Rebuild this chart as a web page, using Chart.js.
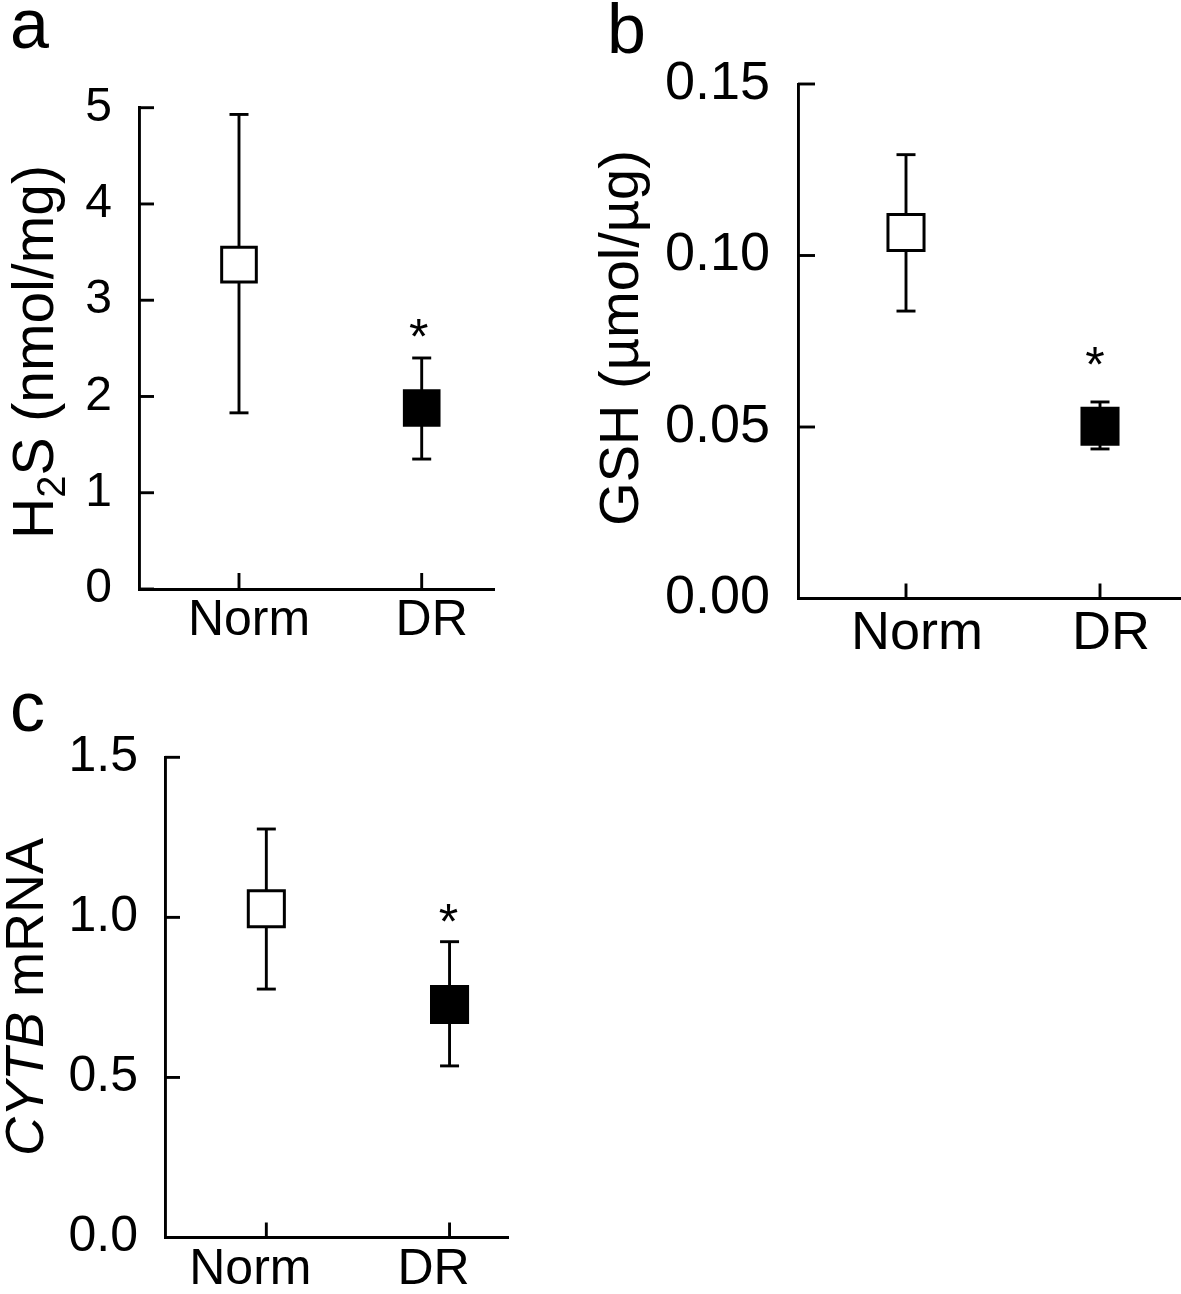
<!DOCTYPE html>
<html><head><meta charset="utf-8">
<script src="https://cdn.jsdelivr.net/npm/chart.js@4.4.1/dist/chart.umd.min.js"></script>
<style>
html,body{margin:0;padding:0;background:#fff;}
body{width:1181px;height:1294px;position:relative;overflow:hidden;font-family:"Liberation Sans",Arial,sans-serif;color:#000;}
canvas{position:absolute;}
.lbl{position:absolute;white-space:nowrap;line-height:1;}
.ttl{position:absolute;white-space:nowrap;line-height:1;transform:translate(-50%,-50%) rotate(-90deg);}
</style></head><body>
<canvas id="ca"></canvas><canvas id="cb"></canvas><canvas id="cc"></canvas>
<div class="lbl" style="left:10px;top:-11px;font-size:70px;">a</div>
<div class="lbl" style="left:607px;top:-6px;font-size:70px;">b</div>
<div class="lbl" style="left:10px;top:672px;font-size:70px;">c</div>
<div class="ttl" style="left:33px;top:352px;font-size:57px;">H<span style="font-size:0.7em;position:relative;top:0.3em;">2</span>S (nmol/mg)</div>
<div class="ttl" style="left:619px;top:338px;font-size:56px;">GSH (µmol/µg)</div>
<div class="ttl" style="left:24px;top:997px;font-size:54px;"><i>CYTB</i> mRNA</div>
<script>
// ---- data ----
const categories = ['Norm', 'DR'];
const significance = ['', '*'];

const h2sMean = [3.37, 1.88];
const h2sLow  = [1.83, 1.35];
const h2sHigh = [4.93, 2.40];
const h2sTicks = [0, 1, 2, 3, 4, 5];

const gshMean = [0.1067, 0.0502];
const gshLow  = [0.0838, 0.0436];
const gshHigh = [0.1294, 0.0573];
const gshTicks = [0, 0.05, 0.10, 0.15];

const cytbMean = [1.027, 0.728];
const cytbLow  = [0.776, 0.536];
const cytbHigh = [1.276, 0.924];
const cytbTicks = [0, 0.5, 1.0, 1.5];

const markerFill = ['#ffffff', '#000000'];

// ---- plugin: inner ticks, error bars, significance stars ----
const decor = {
  id: 'decor',
  beforeDatasetsDraw(chart, args, o) {
    const ctx = chart.ctx, xs = chart.scales.x, ys = chart.scales.y;
    ctx.save();
    ctx.strokeStyle = '#000';
    ctx.lineWidth = o.lw;
    ys.ticks.forEach(t => {
      const y = ys.getPixelForValue(t.value);
      ctx.beginPath(); ctx.moveTo(xs.left, y); ctx.lineTo(xs.left + o.yTickLen, y); ctx.stroke();
    });
    xs.ticks.forEach(t => {
      const x = xs.getPixelForValue(t.value);
      ctx.beginPath(); ctx.moveTo(x, ys.bottom); ctx.lineTo(x, ys.bottom - o.xTickLen); ctx.stroke();
    });
    o.low.forEach((lo, i) => {
      const x = xs.getPixelForValue(i + 1);
      const yl = ys.getPixelForValue(lo), yh = ys.getPixelForValue(o.high[i]);
      ctx.beginPath(); ctx.moveTo(x, yl); ctx.lineTo(x, yh); ctx.stroke();
      ctx.beginPath(); ctx.moveTo(x - o.cap, yl); ctx.lineTo(x + o.cap, yl); ctx.stroke();
      ctx.beginPath(); ctx.moveTo(x - o.cap, yh); ctx.lineTo(x + o.cap, yh); ctx.stroke();
    });
    ctx.restore();
  },
  afterDatasetsDraw(chart, args, o) {
    const ctx = chart.ctx, xs = chart.scales.x, ys = chart.scales.y;
    ctx.save();
    ctx.fillStyle = '#000';
    ctx.font = o.starFont + 'px "Liberation Sans", Arial, sans-serif';
    ctx.textAlign = 'center';
    ctx.textBaseline = 'alphabetic';
    significance.forEach((s, i) => {
      if (!s) return;
      const x = xs.getPixelForValue(i + 1) + o.starDx;
      const yc = ys.getPixelForValue(o.high[i]) - o.starGap;
      ctx.fillText(s, x, yc + 0.58 * o.starFont);
    });
    ctx.restore();
  }
};

function makePanel(id, L, mean, low, high, yTicks, fmt) {
  const cv = document.getElementById(id);
  cv.width = L.w; cv.height = L.h;
  cv.style.left = L.left + 'px'; cv.style.top = L.top + 'px';
  cv.style.width = L.w + 'px'; cv.style.height = L.h + 'px';
  const font = 'Liberation Sans';
  new Chart(cv, {
    type: 'scatter',
    data: {
      datasets: [{
        data: mean.map((v, i) => ({ x: i + 1, y: v })),
        pointStyle: 'rect',
        pointRadius: L.ptR,
        pointHoverRadius: L.ptR,
        pointBackgroundColor: markerFill,
        pointBorderColor: '#000',
        pointBorderWidth: 3,
        showLine: false
      }]
    },
    options: {
      responsive: false,
      animation: false,
      devicePixelRatio: 1,
      events: [],
      layout: { padding: { top: L.aTop - L.top, right: L.left + L.w - L.aRight, left: 0, bottom: 0 } },
      plugins: {
        legend: { display: false }, tooltip: { enabled: false },
        decor: { low, high, lw: 2.9, cap: 9.5, yTickLen: L.yTickLen, xTickLen: L.xTickLen,
                 starFont: 50, starGap: L.starGap, starDx: L.starDx }
      },
      scales: {
        x: {
          type: 'linear', min: L.xmin, max: L.xmax,
          afterBuildTicks: s => { s.ticks = categories.map((c, i) => ({ value: i + 1 })); },
          afterFit: s => { s.height = L.top + L.h - L.aBottom; },
          grid: { display: false, drawTicks: false },
          border: { display: true, color: '#000', width: 2.9 },
          ticks: { color: '#000', font: { family: font, size: L.catFont }, padding: L.xPad,
                   labelOffset: L.labelOffset, maxRotation: 0, autoSkip: false,
                   callback: v => categories[Math.round(v) - 1] }
        },
        y: {
          type: 'linear', min: yTicks[0], max: yTicks[yTicks.length - 1],
          afterBuildTicks: s => { s.ticks = yTicks.map(v => ({ value: v })); },
          afterFit: s => { s.width = L.aLeft - L.left; },
          grid: { display: false, drawTicks: false },
          border: { display: true, color: '#000', width: 2.9 },
          ticks: { color: '#000', font: { family: font, size: L.tickFont }, padding: L.yPad,
                   autoSkip: false, callback: v => fmt(v) }
        }
      }
    },
    plugins: [decor]
  });
}

makePanel('ca',
  { left: 0, top: 40, w: 560, h: 620, aLeft: 139, aRight: 494, aTop: 107.7, aBottom: 589,
    xmin: 0.4527, xmax: 2.3957, ptR: 24.5, yTickLen: 15, xTickLen: 16, tickFont: 48, catFont: 50,
    xPad: 2, yPad: 27, labelOffset: 10, starGap: 33, starDx: -3 },
  h2sMean, h2sLow, h2sHigh, h2sTicks, v => String(v));

makePanel('cb',
  { left: 580, top: 14, w: 661, h: 656, aLeft: 798, aRight: 1181, aTop: 84, aBottom: 598.5,
    xmin: 0.4433, xmax: 2.4175, ptR: 25.5, yTickLen: 17, xTickLen: 15, tickFont: 54, catFont: 54,
    xPad: 3, yPad: 28, labelOffset: 11, starGap: 49, starDx: -5 },
  gshMean, gshLow, gshHigh, gshTicks, v => v.toFixed(2));

makePanel('cc',
  { left: 0, top: 690, w: 570, h: 630, aLeft: 165, aRight: 508, aTop: 757.3, aBottom: 1237.5,
    xmin: 0.447, xmax: 2.319, ptR: 25.5, yTickLen: 15, xTickLen: 15, tickFont: 50, catFont: 50,
    xPad: 3, yPad: 27, labelOffset: -16, starGap: 32, starDx: -1 },
  cytbMean, cytbLow, cytbHigh, cytbTicks, v => v.toFixed(1));
</script>
</body></html>
